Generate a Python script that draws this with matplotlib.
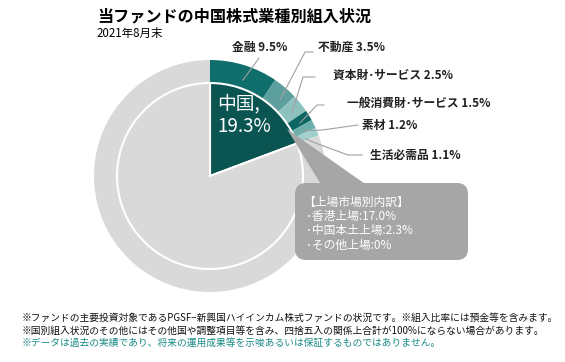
import matplotlib.pyplot as plt
from matplotlib.patches import FancyBboxPatch, Polygon

plt.rcParams['font.family'] = ['Noto Sans CJK JP', 'DejaVu Sans']

W, H = 565, 362

# data
china_share = 19.3
sector_names = ["金融", "不動産", "資本財･サービス", "一般消費財･サービス", "素材", "生活必需品"]
sector_values = [9.5, 3.5, 2.5, 1.5, 1.2, 1.1]
sector_colors = ["#106f6c", "#5c9f9c", "#8dc1be", "#0c6663", "#6cafac", "#a2d0cd"]
listing_lines = ["【上場市場別内訳】", "･香港上場:17.0%", "･中国本土上場:2.3%", "･その他上場:0%"]
notes = [
    "※ファンドの主要投資対象であるPGSF−新興国ハイインカム株式ファンドの状況です。※組入比率には預金等を含みます。",
    "※国別組入状況のその他にはその他国や調整項目等を含み、四捨五入の関係上合計が100%にならない場合があります。",
    "※データは過去の実績であり、将来の運用成果等を示唆あるいは保証するものではありません。",
]

# label positions (image px) and leader line points
label_pos = [(232, 47), (318, 47), (333, 75), (347, 103), (362, 126), (370, 155)]
leaders = [
    [(243, 80), (259, 58)],
    [(280, 100), (305, 52), (313, 52)],
    [(292, 113), (303, 77), (315, 77)],
    [(300, 123), (317, 105), (324, 105)],
    [(302, 131), (322, 130), (358, 125)],
    [(306, 139), (318, 144), (348, 155), (362, 155)],
]

fig = plt.figure(figsize=(W / 100, H / 100), dpi=100)
ax = fig.add_axes([0, 0, 1, 1])


def fy(y):
    return H - y


cx, cy = 210, fy(176)
r_out, r_in = 116, 93

# outer ring: sectors + rest
ring_vals = sector_values + [100 - sum(sector_values)]
ring_cols = sector_colors + ["#d9d9d9"]
ax.pie(ring_vals, colors=ring_cols, radius=r_out, center=(cx, cy),
       startangle=90, counterclock=False, frame=True,
       wedgeprops=dict(width=r_out - r_in, linewidth=0))

# inner pie: China vs other
ax.pie([china_share, 100 - china_share], colors=["#0a5552", "#d9d9d9"],
       radius=r_in, center=(cx, cy), startangle=90, counterclock=False, frame=True,
       wedgeprops=dict(edgecolor="white", linewidth=1.5))
ax.set_xlim(0, W)
ax.set_ylim(0, H)
ax.set_aspect('equal')
ax.axis('off')

ax.text(217, fy(115), "中国,\n19.3%", color="white", fontsize=13.5,
        ha="left", va="center", linespacing=1.15)

# callout
ax.add_patch(Polygon([(287, fy(129)), (322, fy(186)), (368, fy(186))],
                     closed=True, facecolor="#a6a6a6", edgecolor="none"))
ax.add_patch(FancyBboxPatch((295, fy(260)), 173, 77,
                            boxstyle="round,pad=0,rounding_size=11",
                            facecolor="#a6a6a6", edgecolor="none"))
for i, line in enumerate(listing_lines):
    ax.text(303 if i == 0 else 306, fy(202 + i * 14.4), line, color="white",
            fontsize=8.5, ha="left", va="center")

# sector labels
for (x, y), name, v in zip(label_pos, sector_names, sector_values):
    ax.text(x, fy(y), f"{name} {v}%", fontsize=8.5, fontweight="bold",
            color="#222222", ha="left", va="center")
for pts in leaders:
    ax.plot([p[0] for p in pts], [fy(p[1]) for p in pts],
            color="#a0a0a0", linewidth=0.8)

# titles
ax.text(97, fy(16), "当ファンドの中国株式業種別組入状況", fontsize=11.6,
        fontweight="bold", ha="left", va="center")
ax.text(97, fy(33), "2021年8月末", fontsize=8.3, ha="left", va="center")

# notes
for i, n in enumerate(notes):
    ax.text(22, fy(318 + i * 12.5), n, fontsize=7.0, ha="left", va="center",
            color="#1a8a85" if i == 2 else "#111111")

fig.savefig("out.png", dpi=100)
